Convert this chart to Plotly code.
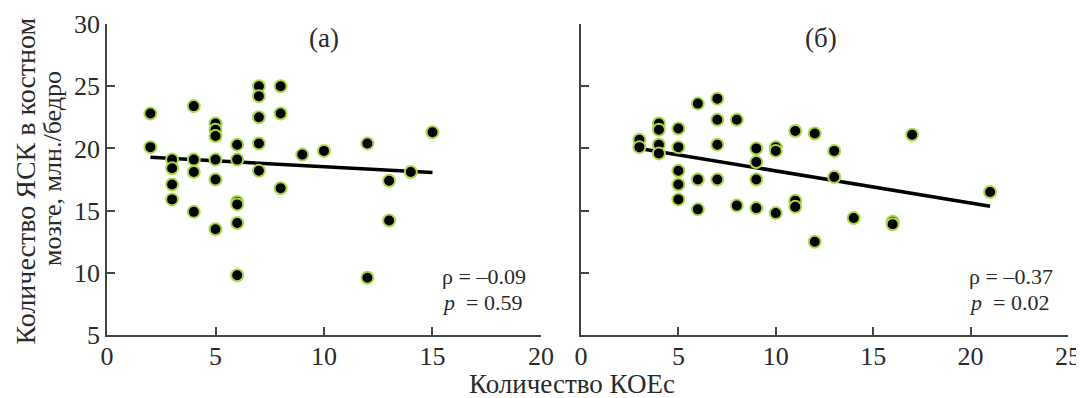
import plotly.graph_objects as go
from plotly.subplots import make_subplots

# Panel (a)
xa = [2, 2, 3, 3, 3, 3, 4, 4, 4, 4, 5, 5, 5, 5, 5, 5, 6, 6, 6, 6, 6, 6,
      7, 7, 7, 7, 7, 8, 8, 8, 9, 10, 12, 12, 13, 13, 14, 15]
ya = [22.8, 20.1, 19.1, 18.4, 17.1, 15.9, 23.4, 19.1, 18.1, 14.9,
      22.0, 21.5, 21.0, 19.1, 17.5, 13.5, 20.3, 19.1, 15.7, 15.5, 14.0, 9.8,
      25.0, 24.2, 22.5, 20.4, 18.2, 25.0, 22.8, 16.8, 19.5, 19.8, 20.4, 9.6,
      17.4, 14.2, 18.1, 21.3]
fit_a_x = [2, 15]
fit_a_y = [19.28, 18.07]

# Panel (б)
xb = [3, 3, 4, 4, 4, 4, 5, 5, 5, 5, 5, 6, 6, 6, 7, 7, 7, 7, 8, 8,
      9, 9, 9, 9, 10, 10, 10, 11, 11, 11, 12, 12, 13, 13, 14, 16, 16, 17, 21]
yb = [20.7, 20.1, 22.0, 21.5, 20.3, 19.6, 21.6, 20.1, 18.2, 17.1, 15.9,
      23.6, 17.5, 15.1, 24.0, 22.3, 20.3, 17.5, 22.3, 15.4,
      20.0, 18.9, 17.5, 15.2, 20.1, 19.8, 14.8, 21.4, 15.8, 15.3,
      21.2, 12.5, 19.8, 17.7, 14.4, 14.1, 13.9, 21.1, 16.5]
fit_b_x = [3, 21]
fit_b_y = [20.0, 15.35]

x_ticks_a = [0, 5, 10, 15, 20]
x_ticks_b = [0, 5, 10, 15, 20, 25]
y_ticks = [5, 10, 15, 20, 25, 30]

FONT = "Liberation Serif"
AX = "#444444"
TXT = "#2a2a2a"

fig = make_subplots(rows=1, cols=2, horizontal_spacing=0.0)

marker = dict(color="black", size=12, line=dict(color="#a8d94a", width=2))
for col, (x, y, fx, fy) in enumerate([(xa, ya, fit_a_x, fit_a_y),
                                      (xb, yb, fit_b_x, fit_b_y)], start=1):
    fig.add_trace(go.Scatter(x=fx, y=fy, mode="lines",
                             line=dict(color="black", width=3.5),
                             showlegend=False), row=1, col=col)
    fig.add_trace(go.Scatter(x=x, y=y, mode="markers", marker=marker,
                             showlegend=False), row=1, col=col)

axis_common = dict(showgrid=False, zeroline=False, showline=True, linecolor=AX,
                   linewidth=1.5, ticks="inside", ticklen=8, tickwidth=1.5,
                   tickcolor=AX, automargin=False,
                   tickfont=dict(family=FONT, size=26, color=TXT))

fig.update_xaxes(**axis_common)
fig.update_yaxes(**axis_common)
fig.update_xaxes(ticklabelstandoff=-3)
fig.update_xaxes(range=[0, 20], tickvals=x_ticks_a, domain=[0, 0.4516], row=1, col=1)
fig.update_xaxes(range=[0, 25], tickvals=x_ticks_b, domain=[0.4932, 1], row=1, col=2)
fig.update_yaxes(range=[5, 30], tickvals=y_ticks, row=1, col=1)
fig.update_yaxes(range=[5, 30], tickvals=y_ticks, showticklabels=False, row=1, col=2)

ann = []
ann.append(dict(x=10, y=28.9, xref="x", yref="y", text="(а)", showarrow=False,
                font=dict(family=FONT, size=27, color=TXT)))
ann.append(dict(x=12.3, y=28.9, xref="x2", yref="y2", text="(б)", showarrow=False,
                font=dict(family=FONT, size=27, color=TXT)))
ann.append(dict(x=15.35, y=9.74, xref="x", yref="y", text="ρ = –0.09", showarrow=False,
                xanchor="left", font=dict(family=FONT, size=22, color=TXT)))
ann.append(dict(x=15.35, y=7.65, xref="x", yref="y", text="<i>p</i>  = 0.59", showarrow=False,
                xanchor="left", font=dict(family=FONT, size=22, color=TXT)))
ann.append(dict(x=19.8, y=9.74, xref="x2", yref="y2", text="ρ = –0.37", showarrow=False,
                xanchor="left", font=dict(family=FONT, size=22, color=TXT)))
ann.append(dict(x=19.8, y=7.65, xref="x2", yref="y2", text="<i>p</i>  = 0.02", showarrow=False,
                xanchor="left", font=dict(family=FONT, size=22, color=TXT)))
ann.append(dict(x=0.484, y=-0.158, xref="paper", yref="paper", text="Количество КОЕс",
                showarrow=False, xanchor="center", yanchor="middle",
                font=dict(family=FONT, size=27, color=TXT)))
ann.append(dict(x=-0.0853, y=0.4936, xref="paper", yref="paper",
                text="Количество ЯСК в костном",
                showarrow=False, textangle=-90, xanchor="center", yanchor="middle",
                font=dict(family=FONT, size=28, color=TXT)))
ann.append(dict(x=-0.0562, y=0.537, xref="paper", yref="paper",
                text="мозге, млн./бедро",
                showarrow=False, textangle=-90, xanchor="center", yanchor="middle",
                font=dict(family=FONT, size=26, color=TXT)))

# The page body has an 8px margin, so the figure is offset by 8px.
fig.update_layout(width=1076, height=390, margin=dict(l=99, r=16, t=16, b=63),
                  plot_bgcolor="white", paper_bgcolor="white", annotations=ann)

fig.write_html("out.html")
